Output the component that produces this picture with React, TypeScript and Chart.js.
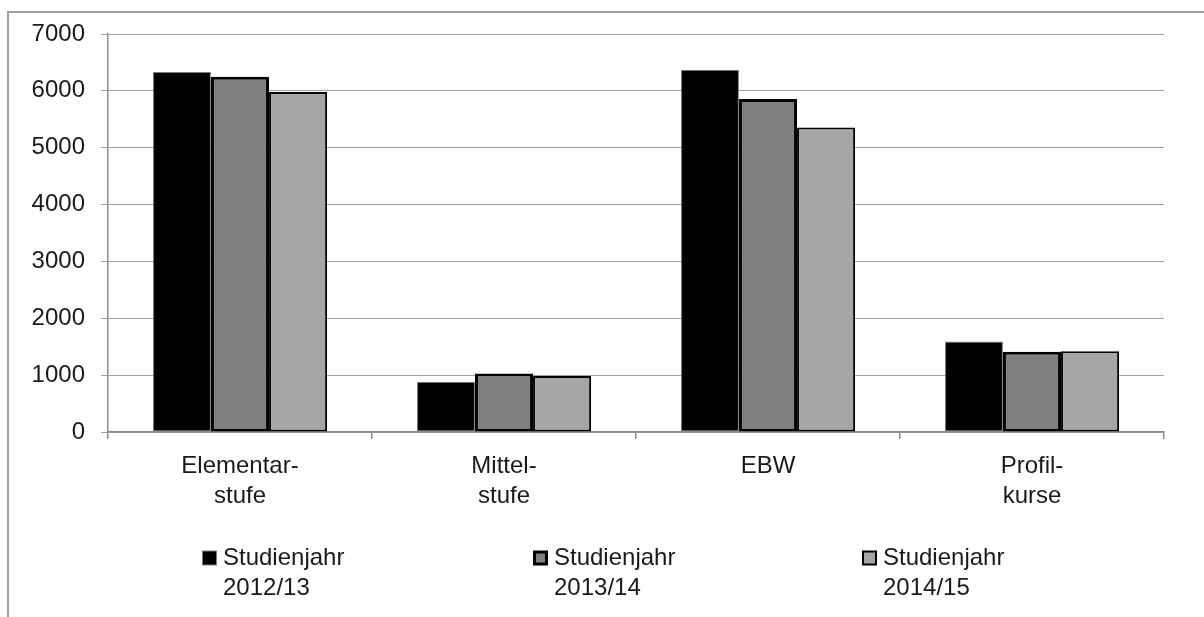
import React, { useEffect, useRef } from "react";
import { Chart, registerables } from "chart.js";

Chart.register(...registerables);

const categories: string[][] = [
  ["Elementar-", "stufe"],
  ["Mittel-", "stufe"],
  ["EBW"],
  ["Profil-", "kurse"],
];
const seriesNames: string[][] = [
  ["Studienjahr", "2012/13"],
  ["Studienjahr", "2013/14"],
  ["Studienjahr", "2014/15"],
];
const values2012: number[] = [6330, 885, 6370, 1590];
const values2013: number[] = [6250, 1030, 5855, 1413];
const values2014: number[] = [5980, 985, 5355, 1420];
const yTicks: number[] = [0, 1000, 2000, 3000, 4000, 5000, 6000, 7000];

const FONT = '"Liberation Sans", Arial, sans-serif';
const TEXT = "#1a1a1a";

const fills = ["#000000", "#808080", "#a6a6a6"];
const borders = ["#7f7f7f", "#000000", "#000000"];
const borderWidths = [1, 3, 2];

const legendPlugin = {
  id: "customLegend",
  afterDraw(chart: any) {
    const ctx = chart.ctx as CanvasRenderingContext2D;
    const xs = [193, 524, 853];
    const y0 = 545;
    const lh = 30;
    const sq = 15;
    ctx.save();
    ctx.font = `24px ${FONT}`;
    ctx.textBaseline = "middle";
    ctx.textAlign = "left";
    seriesNames.forEach((lines, i) => {
      const x = xs[i];
      const bw = borderWidths[i];
      ctx.fillStyle = borders[i];
      ctx.fillRect(x, y0 - sq / 2, sq, sq);
      ctx.fillStyle = fills[i];
      ctx.fillRect(x + bw, y0 - sq / 2 + bw, sq - 2 * bw, sq - 2 * bw);
      ctx.fillStyle = TEXT;
      lines.forEach((t, j) => {
        ctx.fillText(t, x + 21, y0 + j * lh);
      });
    });
    ctx.restore();
  },
};

export default function App() {
  const ref = useRef<HTMLCanvasElement | null>(null);

  useEffect(() => {
    if (!ref.current) return;
    const data = [values2012, values2013, values2014];
    const chart = new Chart(ref.current, {
      type: "bar",
      data: {
        labels: categories,
        datasets: data.map((vals, i) => ({
          label: seriesNames[i].join(" "),
          data: vals,
          backgroundColor: fills[i],
          borderColor: borders[i],
          borderWidth: borderWidths[i],
          borderSkipped: false,
          categoryPercentage: 0.66,
          barPercentage: 1,
        })),
      },
      options: {
        animation: false,
        responsive: false,
        maintainAspectRatio: false,
        layout: { padding: { top: 21, right: 40, bottom: 85, left: 0 } },
        plugins: {
          legend: { display: false },
          tooltip: { enabled: false },
        },
        scales: {
          x: {
            offset: true,
            grid: {
              display: true,
              drawOnChartArea: false,
              drawTicks: true,
              tickLength: 7,
              offset: true,
              color: "#8c8c8c",
              lineWidth: 1.5,
            },
            border: { display: true, color: "#8c8c8c", width: 1.5 },
            ticks: {
              color: TEXT,
              font: { family: FONT, size: 24, lineHeight: 1.25 },
              padding: 12,
              maxRotation: 0,
              autoSkip: false,
            },
            afterFit(scale: any) {
              scale.height = 100;
            },
          },
          y: {
            min: 0,
            max: 7000,
            afterBuildTicks(scale: any) {
              scale.ticks = yTicks.map((v) => ({ value: v }));
            },
            grid: {
              color: "#a0a0a0",
              lineWidth: 1,
              drawTicks: true,
              tickLength: 7,
            },
            border: { display: true, color: "#8c8c8c", width: 1.5 },
            ticks: {
              color: TEXT,
              font: { family: FONT, size: 24 },
              padding: 16,
              callback: (v: any) => String(v),
            },
            afterFit(scale: any) {
              scale.width = 99;
              scale.paddingTop = 0;
              scale.paddingBottom = 0;
            },
          },
        },
      },
      plugins: [legendPlugin],
    });
    return () => chart.destroy();
  }, []);

  return (
    <div
      style={{
        position: "absolute",
        left: 7,
        top: 11,
        width: 1197,
        height: 606,
        boxSizing: "border-box",
        borderLeft: "2px solid #a0a0a0",
        borderTop: "2px solid #a0a0a0",
        overflow: "hidden",
      }}
    >
      <canvas
        ref={ref}
        width={1195}
        height={604}
        style={{ display: "block", width: 1195, height: 604 }}
      />
    </div>
  );
}
